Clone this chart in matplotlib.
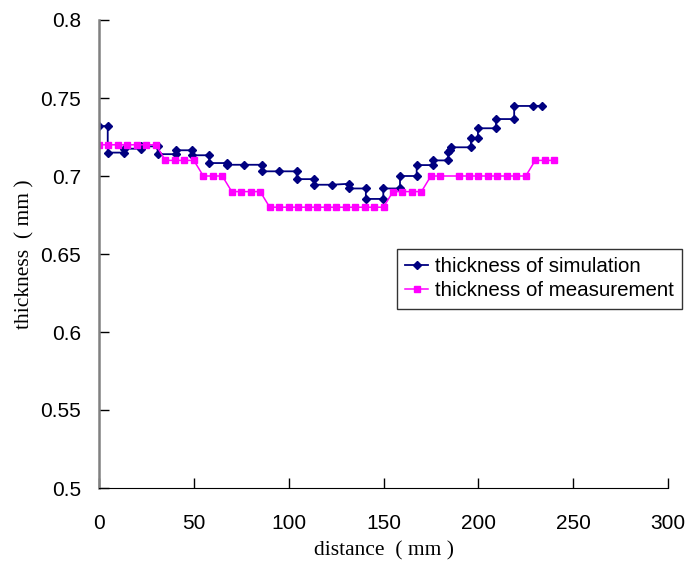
import matplotlib
matplotlib.use("Agg")
import matplotlib.pyplot as plt

# simulation (staircase)
sim_x = [0, 4.6, 4.6, 13.3, 13.3, 22.1, 22.1, 30.9, 30.9, 40.6, 40.6, 49.0, 49.0,
         58.1, 58.1, 67.3, 67.3, 76.6, 85.9, 85.9, 95.0, 104.2, 104.2, 113.5, 113.5,
         122.7, 131.8, 131.8, 140.7, 140.7, 149.9, 149.9, 158.7, 158.7, 167.5, 167.5,
         176.1, 176.1, 184.1, 184.1, 184.8, 185.4, 196.1, 196.1, 199.8, 199.8, 209.3,
         209.3, 218.9, 218.9, 228.6, 233.4]
sim_y = [0.732, 0.732, 0.715, 0.715, 0.7175, 0.7175, 0.719, 0.719, 0.714, 0.714,
         0.7165, 0.7165, 0.7133, 0.7133, 0.7083, 0.7083, 0.7072, 0.7072, 0.7072,
         0.703, 0.703, 0.703, 0.698, 0.698, 0.6944, 0.6944, 0.695, 0.692, 0.692,
         0.6853, 0.6853, 0.692, 0.692, 0.700, 0.700, 0.707, 0.707, 0.710, 0.710,
         0.7154, 0.7169, 0.7184, 0.7184, 0.7244, 0.7244, 0.7306, 0.7306, 0.7365,
         0.7365, 0.7449, 0.7449, 0.745]

# measurement every 5 mm (185 missing)
meas_x = [0, 5, 10, 15, 20, 25, 30, 35, 40, 45, 50, 55, 60, 65, 70, 75, 80, 85,
          90, 95, 100, 105, 110, 115, 120, 125, 130, 135, 140, 145, 150,
          155, 160, 165, 170, 175, 180, 190, 195, 200, 205, 210, 215, 220, 225,
          230, 235, 240]
meas_y = [0.72] * 7 + [0.71] * 4 + [0.70] * 3 + [0.69] * 4 + [0.68] * 13 + \
         [0.69] * 4 + [0.70] * 10 + [0.71] * 3

xticks = [0, 50, 100, 150, 200, 250, 300]
yticks = [0.5, 0.55, 0.6, 0.65, 0.7, 0.75, 0.8]
ytick_labels = ["0.5", "0.55", "0.6", "0.65", "0.7", "0.75", "0.8"]

fig = plt.figure(figsize=(6.88, 5.63), dpi=100)
ax = fig.add_axes([99 / 688, 75 / 563, 569 / 688, 468 / 563])

ax.plot(sim_x, sim_y, color="#000080", lw=1.3, marker="D", ms=3.6,
        label="thickness of simulation")
ax.plot(meas_x, meas_y, color="#FF00FF", lw=1.1, marker="s", ms=5,
        label="thickness of measurement")

ax.set_xlim(0, 300)
ax.set_ylim(0.5, 0.8)
ax.set_xticks(xticks)
ax.set_yticks(yticks)
ax.set_yticklabels(ytick_labels)
ax.tick_params(direction="in", length=7, width=1, labelsize=15)
ax.tick_params(axis="x", pad=19)
ax.tick_params(axis="y", pad=13)
for lab in ax.get_xticklabels() + ax.get_yticklabels():
    lab.set_fontfamily("Liberation Sans")

ax.spines["top"].set_visible(False)
ax.spines["right"].set_visible(False)
ax.spines["left"].set_color("#808080")
ax.spines["left"].set_linewidth(1.8)
ax.spines["bottom"].set_color("black")

ax.set_xlabel("distance  ( mm )", fontfamily="Liberation Serif", fontsize=15.5, labelpad=6)
ax.set_ylabel("thickness  ( mm )", fontfamily="Liberation Serif", fontsize=15.5, labelpad=4)

leg = ax.legend(loc="upper left", bbox_to_anchor=(397 / 688, 1 - 249 / 563),
                bbox_transform=fig.transFigure, borderaxespad=0,
                frameon=True, fancybox=False,
                edgecolor="black", handlelength=1.1, handletextpad=0.35,
                borderpad=0.4, labelspacing=0.25,
                prop={"family": "Liberation Sans", "size": 14.8})
leg.get_frame().set_linewidth(1.0)

fig.savefig("out.png", dpi=100)
